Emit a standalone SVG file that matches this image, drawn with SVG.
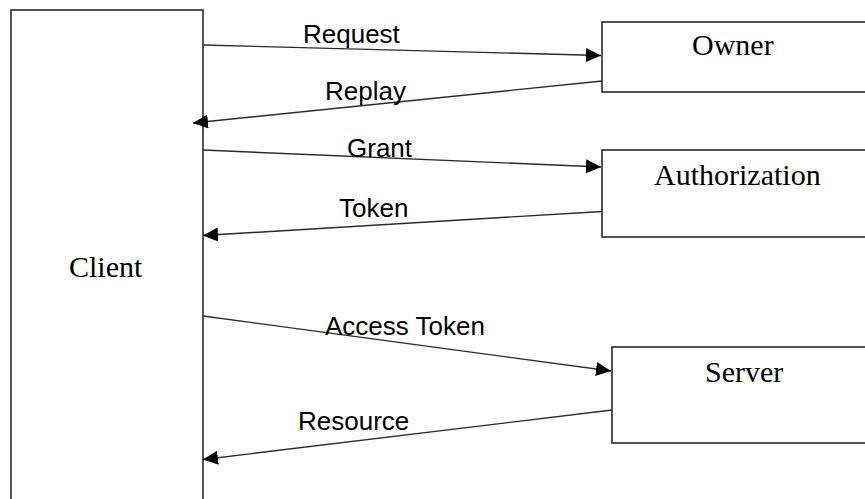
<svg xmlns="http://www.w3.org/2000/svg" width="865" height="499" viewBox="0 0 865 499">
  <style>
    .box { fill: #ffffff; stroke: #2a2a2a; stroke-width: 1.6; }
    .node-text { font-family: "Liberation Serif", "Times New Roman", serif; font-size: 30px; fill: #000000; }
    .edge { fill: none; stroke: #2a2a2a; stroke-width: 1.4; marker-end: url(#arrow); }
    .edge-label { font-family: "Liberation Sans", Arial, sans-serif; font-size: 26px; fill: #000000; }
  </style>
  <defs>
    <marker id="arrow" markerUnits="userSpaceOnUse" markerWidth="16" markerHeight="16" refX="15" refY="7" orient="auto">
      <path d="M0,0 L15,7 L0,14 Z" fill="#000000"/>
    </marker>
  </defs>
  <rect x="0" y="0" width="865" height="499" fill="#ffffff"/>

  <g id="client">
    <rect class="box" x="11" y="10" width="192" height="600"/>
    <text class="node-text" x="69" y="277">Client</text>
  </g>
  <g id="owner">
    <rect class="box" x="602" y="22" width="300" height="70"/>
    <text class="node-text" x="692" y="55">Owner</text>
  </g>
  <g id="authorization">
    <rect class="box" x="602" y="150" width="300" height="87"/>
    <text class="node-text" x="654" y="185">Authorization</text>
  </g>
  <g id="server">
    <rect class="box" x="612" y="347" width="300" height="96"/>
    <text class="node-text" x="705" y="382">Server</text>
  </g>

  <g id="connectors">
    <line class="edge" x1="203" y1="45" x2="601" y2="55.5"/>
    <line class="edge" x1="602" y1="81" x2="193" y2="123"/>
    <line class="edge" x1="203" y1="150" x2="601" y2="167"/>
    <line class="edge" x1="602" y1="211.5" x2="203" y2="235.5"/>
    <line class="edge" x1="203" y1="316" x2="611" y2="371"/>
    <line class="edge" x1="612" y1="410" x2="203" y2="459.5"/>
  </g>

  <g id="labels">
    <text class="edge-label" x="303" y="43">Request</text>
    <text class="edge-label" x="325" y="100">Replay</text>
    <text class="edge-label" x="347" y="157">Grant</text>
    <text class="edge-label" x="339" y="217">Token</text>
    <text class="edge-label" x="325" y="335">Access Token</text>
    <text class="edge-label" x="298" y="430">Resource</text>
  </g>
</svg>
